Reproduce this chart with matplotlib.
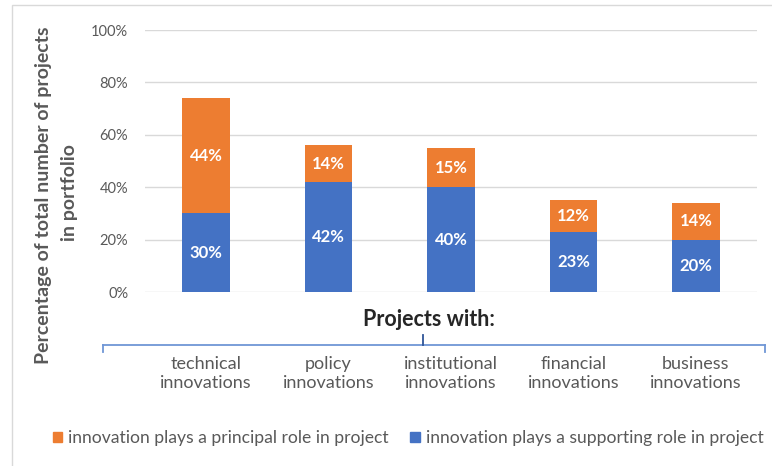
import matplotlib
matplotlib.use("Agg")
import matplotlib.pyplot as plt
from matplotlib.lines import Line2D
from matplotlib.patches import Rectangle

categories = ["technical\ninnovations", "policy\ninnovations", "institutional\ninnovations",
              "financial\ninnovations", "business\ninnovations"]
supporting = [30, 42, 40, 23, 20]
principal = [44, 14, 15, 12, 14]
yticks = [0, 20, 40, 60, 80, 100]
ytick_labels = ["0%", "20%", "40%", "60%", "80%", "100%"]
ylabel_lines = ["Percentage of total number of projects", "in portfolio"]
legend_labels = ["innovation plays a principal role in project",
                 "innovation plays a supporting role in project"]

plt.rcParams['font.family'] = ['Lato', 'DejaVu Sans']

ORANGE = "#ED7D31"
BLUE = "#4472C4"
GRAY = "#595959"

fig = plt.figure(figsize=(7.72, 4.66), dpi=100)
ax = fig.add_axes([145/772, 1-292/466, (757-145)/772, (292-30)/466])

x = list(range(len(categories)))
ax.bar(x, supporting, width=0.39, color=BLUE, zorder=3)
ax.bar(x, principal, bottom=supporting, width=0.39, color=ORANGE, zorder=3)
for i in x:
    ax.text(i, supporting[i]/2, f"{supporting[i]}%", ha="center", va="center",
            color="white", fontsize=12, fontweight="bold", zorder=4)
    ax.text(i, supporting[i] + principal[i]/2, f"{principal[i]}%", ha="center", va="center",
            color="white", fontsize=12, fontweight="bold", zorder=4)

ax.set_xlim(-0.5, len(categories) - 0.5)
ax.set_ylim(0, 100)
ax.set_yticks(yticks)
ax.set_yticklabels(ytick_labels, color=GRAY, fontsize=10.5)
ax.tick_params(axis="y", length=0, pad=12)
ax.set_xticks([])
ax.grid(axis="y", color="#D9D9D9", linewidth=1, zorder=0)
for s in ax.spines.values():
    s.set_visible(False)

# category labels
for i, c in enumerate(categories):
    ax.text(i, -0.31, c, transform=ax.get_xaxis_transform(), ha="center", va="center",
            color=GRAY, fontsize=13, linespacing=1.2)

# y axis title (two centred lines)
fig.text(44/772, 1-195/466, ylabel_lines[0], rotation=90, ha="center", va="center",
         color=GRAY, fontsize=14, fontweight="bold")
fig.text(70/772, 1-193/466, ylabel_lines[1], rotation=90, ha="center", va="center",
         color=GRAY, fontsize=14, fontweight="bold")

fig.text(429/772, 1-320/466, "Projects with:", ha="center", va="center",
         fontsize=15.5, fontweight="bold", color="#262626")

# bracket
bc = "#6F96D6"
yb = 1 - 345/466
fig.add_artist(Line2D([103/772, 765/772], [yb, yb], color=bc, lw=1.3, transform=fig.transFigure))
fig.add_artist(Line2D([103/772, 103/772], [yb, yb - 7/466], color=bc, lw=1.3, transform=fig.transFigure))
fig.add_artist(Line2D([765/772, 765/772], [yb, yb - 7/466], color=bc, lw=1.3, transform=fig.transFigure))
fig.add_artist(Line2D([423/772, 423/772], [yb, yb + 10/466], color="#2F5597", lw=1.3, transform=fig.transFigure))

# legend
handles = [Rectangle((0, 0), 1, 1, color=ORANGE), Rectangle((0, 0), 1, 1, color=BLUE)]
fig.legend(handles, legend_labels, loc="center", bbox_to_anchor=(408/772, 1-438/466), ncol=2,
           frameon=False, fontsize=12.6, labelcolor=GRAY, handlelength=0.55, handleheight=0.55,
           handletextpad=0.35, columnspacing=1.2)

# outer border
fig.add_artist(Rectangle((12/772, -0.1), 1, 1 - 5/466 + 0.1, fill=False, edgecolor="#D9D9D9",
                         lw=1, transform=fig.transFigure))

fig.savefig("out.png", dpi=100)
